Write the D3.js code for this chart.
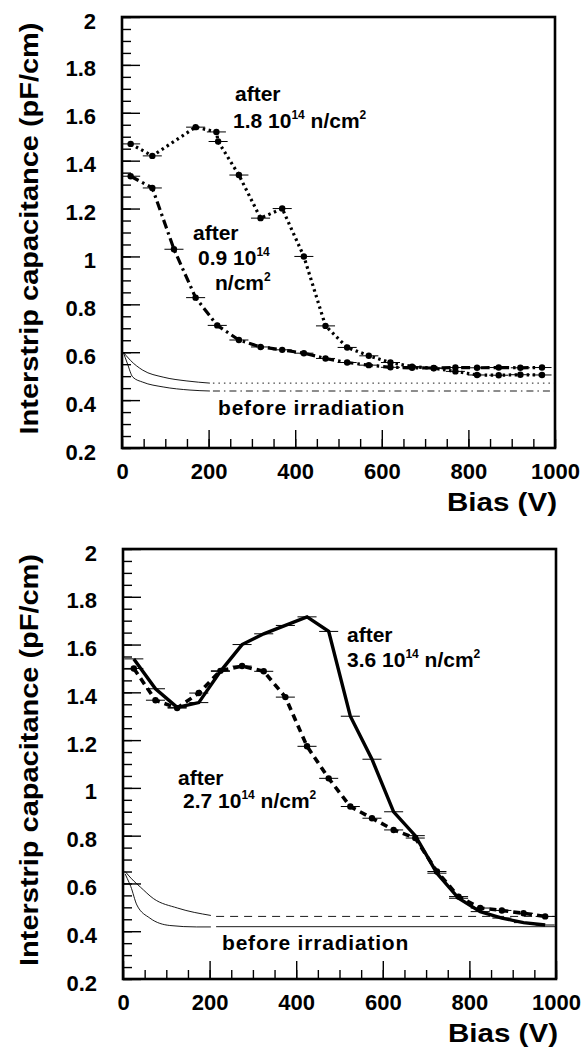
<!DOCTYPE html>
<html>
<head>
<meta charset="utf-8">
<script src="https://cdn.jsdelivr.net/npm/d3@7"></script>
<style>
    body { margin: 0; background: #fff; }
    svg text { font-family: "Liberation Sans", Arial, Helvetica, sans-serif; font-weight: bold; fill: #000; }
</style>
</head>
<body>
<svg id="chart" width="582" height="1052"></svg>
<script>
    'use strict';

    // tick values
    var biasTicks = [0, 200, 400, 600, 800, 1000];
    var biasMinor = d3.range(0, 1001, 50);
    var capTicks = [0.2, 0.4, 0.6, 0.8, 1, 1.2, 1.4, 1.6, 1.8, 2];
    var capMinor = d3.range(4, 41).map(function (i) { return i * 0.05; });

    // top panel: 1.8 10^14 n/cm2 (dotted)
    var bias18 = [20, 70, 170, 218, 222, 270, 320, 370, 420, 470, 520, 570, 620, 670, 720, 770, 820, 870, 920, 970];
    var cap18 = [1.47, 1.42, 1.54, 1.52, 1.48, 1.34, 1.16, 1.20, 1.00, 0.71, 0.62, 0.585, 0.557, 0.54, 0.533, 0.52, 0.505, 0.504, 0.506, 0.505];

    // top panel: 0.9 10^14 n/cm2 (dash-dot)
    var bias09 = [20, 70, 120, 170, 220, 270, 320, 370, 420, 470, 520, 570, 620, 670, 720, 770, 820, 870, 920, 970];
    var cap09 = [1.335, 1.286, 1.03, 0.828, 0.712, 0.651, 0.622, 0.61, 0.596, 0.574, 0.557, 0.546, 0.537, 0.535, 0.534, 0.536, 0.535, 0.536, 0.535, 0.536];

    // top panel: before irradiation
    var topBeforeBiasA = [3, 10, 20, 48, 95, 150, 203];
    var topBeforeCapA = [0.60, 0.585, 0.565, 0.525, 0.496, 0.48, 0.471];
    var topBeforeBiasB = [3, 12, 25, 48, 95, 157, 203];
    var topBeforeCapB = [0.60, 0.555, 0.496, 0.475, 0.455, 0.442, 0.438];
    var topTailBias = [210, 1000];
    var topTailCapA = [0.471, 0.471];
    var topTailCapB = [0.438, 0.438];

    // bottom panel: 3.6 10^14 n/cm2 (solid)
    var bias36 = [25, 75, 125, 175, 225, 275, 325, 375, 425, 475, 525, 575, 625, 675, 725, 775, 825, 875, 925, 975];
    var cap36 = [1.54, 1.415, 1.337, 1.357, 1.488, 1.60, 1.645, 1.68, 1.716, 1.655, 1.30, 1.12, 0.90, 0.80, 0.643, 0.538, 0.482, 0.455, 0.436, 0.426];

    // bottom panel: 2.7 10^14 n/cm2 (dashed)
    var bias27 = [25, 75, 125, 175, 225, 275, 325, 375, 425, 475, 525, 575, 625, 675, 725, 775, 825, 875, 925, 975];
    var cap27 = [1.50, 1.367, 1.334, 1.397, 1.49, 1.51, 1.488, 1.38, 1.174, 1.04, 0.922, 0.873, 0.824, 0.79, 0.65, 0.545, 0.497, 0.487, 0.475, 0.462];

    // bottom panel: before irradiation
    var botBeforeBiasA = [5, 12, 25, 40, 70, 126, 203];
    var botBeforeCapA = [0.65, 0.635, 0.61, 0.585, 0.537, 0.497, 0.466];
    var botBeforeBiasB = [5, 10, 18, 32, 62, 108, 170, 203];
    var botBeforeCapB = [0.64, 0.62, 0.587, 0.51, 0.455, 0.424, 0.418, 0.418];
    var botTailBias = [215, 1000];
    var botTailCapA = [0.462, 0.462];
    var botTailCapB = [0.419, 0.419];

    var svg = d3.select("#chart");

    function zip(xs, ys) {
        return xs.map(function (v, i) { return {bias: v, cap: ys[i]}; });
    }

    function drawPanel(box) {
        var x = d3.scaleLinear().domain([0, 1000]).range([box.left, box.right]);
        var y = d3.scaleLinear().domain([0.2, 2]).range([box.bottom, box.top]);
        var g = svg.append("g");

        // minor ticks
        g.append("g")
            .attr("transform", "translate(" + box.left + ",0)")
            .call(d3.axisLeft(y).tickValues(capMinor).tickSizeInner(-9).tickSizeOuter(0).tickFormat(""));
        g.append("g")
            .attr("transform", "translate(0," + box.bottom + ")")
            .call(d3.axisBottom(x).tickValues(biasMinor).tickSizeInner(-9).tickSizeOuter(0).tickFormat(""));

        // major ticks + labels
        var ya = g.append("g")
            .attr("class", "y axis")
            .attr("transform", "translate(" + box.left + ",0)")
            .call(d3.axisLeft(y).tickValues(capTicks).tickSizeInner(-18).tickSizeOuter(0).tickPadding(26).tickFormat(d3.format("~g")));
        ya.selectAll("text").attr("font-size", 22).attr("dy", "0.5em");

        var xa = g.append("g")
            .attr("class", "x axis")
            .attr("transform", "translate(0," + box.bottom + ")")
            .call(d3.axisBottom(x).tickValues(biasTicks).tickSizeInner(-18).tickSizeOuter(0).tickPadding(15).tickFormat(d3.format("d")));
        xa.selectAll("text").attr("font-size", 22);

        g.selectAll(".domain").remove();
        g.selectAll(".tick line").attr("stroke", "#000").attr("stroke-width", 1.4);

        // frame
        g.append("rect")
            .attr("x", box.left)
            .attr("y", box.top)
            .attr("width", box.right - box.left)
            .attr("height", box.bottom - box.top)
            .attr("fill", "none")
            .attr("stroke", "#000")
            .attr("stroke-width", 2.6);

        // axis titles
        g.append("text")
            .attr("transform", "translate(38," + ((box.top + box.bottom) / 2 - 4) + ") rotate(-90)")
            .attr("text-anchor", "middle")
            .attr("font-size", 25)
            .attr("textLength", 412)
            .attr("lengthAdjust", "spacingAndGlyphs")
            .text("Interstrip capacitance (pF/cm)");

        g.append("text")
            .attr("x", box.right + 2)
            .attr("y", box.bottom + 63)
            .attr("text-anchor", "end")
            .attr("font-size", 25)
            .attr("textLength", 110)
            .attr("lengthAdjust", "spacingAndGlyphs")
            .text("Bias (V)");

        return {g: g, x: x, y: y};
    }

    function addThin(p, xs, ys, dash, curved) {
        var line = d3.line()
            .x(function (d) { return p.x(d.bias); })
            .y(function (d) { return p.y(d.cap); });
        if (curved) line.curve(d3.curveMonotoneX);
        p.g.append("path")
            .datum(zip(xs, ys))
            .attr("d", line)
            .attr("fill", "none")
            .attr("stroke", "#000")
            .attr("stroke-width", 0.9)
            .attr("stroke-dasharray", dash);
    }

    function addSeries(p, xs, ys, dash, width, dots) {
        var data = zip(xs, ys);
        var line = d3.line()
            .x(function (d) { return p.x(d.bias); })
            .y(function (d) { return p.y(d.cap); });

        p.g.append("path")
            .datum(data)
            .attr("class", "line")
            .attr("d", line)
            .attr("fill", "none")
            .attr("stroke", "#000")
            .attr("stroke-width", width)
            .attr("stroke-linecap", "butt")
            .attr("stroke-dasharray", dash);

        // horizontal error bars
        p.g.selectAll(null)
            .data(data)
            .enter().append("line")
            .attr("x1", function (d) { return p.x(d.bias - 22); })
            .attr("x2", function (d) { return p.x(d.bias + 22); })
            .attr("y1", function (d) { return p.y(d.cap); })
            .attr("y2", function (d) { return p.y(d.cap); })
            .attr("stroke", "#000")
            .attr("stroke-width", 1);

        if (dots) {
            p.g.selectAll(null)
                .data(data)
                .enter().append("circle")
                .attr("cx", function (d) { return p.x(d.bias); })
                .attr("cy", function (d) { return p.y(d.cap); })
                .attr("r", 3.2)
                .attr("fill", "#000");
        }
    }

    function addLabel(g, x, y, parts) {
        var t = g.append("text").attr("x", x).attr("y", y).attr("font-size", 21);
        parts.forEach(function (s) {
            if (s.sup) {
                t.append("tspan").attr("font-size", 12).attr("dy", -9).text(s.sup);
            } else {
                t.append("tspan").attr("dy", s.down ? 9 : 0).text(s.txt);
            }
        });
        return t;
    }

    // ---------- top panel ----------
    var topPanel = drawPanel({left: 122, right: 555, top: 17, bottom: 448});

    addThin(topPanel, topBeforeBiasA, topBeforeCapA, null, true);
    addThin(topPanel, topBeforeBiasB, topBeforeCapB, null, true);
    addThin(topPanel, topTailBias, topTailCapA, "1.5,4", false);
    addThin(topPanel, topTailBias, topTailCapB, "7,4,1.5,4", false);

    addSeries(topPanel, bias18, cap18, "2.5,3.5", 3.2, true);
    addSeries(topPanel, bias09, cap09, "9,4,2.5,4", 3.2, true);

    addLabel(topPanel.g, 235, 101, [{txt: "after"}]);
    addLabel(topPanel.g, 233, 128, [{txt: "1.8 10"}, {sup: "14"}, {txt: " n/cm", down: true}, {sup: "2"}]);
    addLabel(topPanel.g, 193, 240, [{txt: "after"}]);
    addLabel(topPanel.g, 198, 265, [{txt: "0.9 10"}, {sup: "14"}]);
    addLabel(topPanel.g, 215, 290, [{txt: "n/cm"}, {sup: "2"}]);
    addLabel(topPanel.g, 218, 415, [{txt: "before irradiation"}]).attr("letter-spacing", 0.8);

    // ---------- bottom panel ----------
    var botPanel = drawPanel({left: 123, right: 556, top: 549, bottom: 979});

    addThin(botPanel, botBeforeBiasA, botBeforeCapA, null, true);
    addThin(botPanel, botBeforeBiasB, botBeforeCapB, null, true);
    addThin(botPanel, botTailBias, botTailCapA, "8,6", false);
    addThin(botPanel, botTailBias, botTailCapB, null, false);

    addSeries(botPanel, bias27, cap27, "7,5", 3.6, true);
    addSeries(botPanel, bias36, cap36, null, 3.4, false);

    addLabel(botPanel.g, 347, 642, [{txt: "after"}]);
    addLabel(botPanel.g, 347, 667, [{txt: "3.6 10"}, {sup: "14"}, {txt: " n/cm", down: true}, {sup: "2"}]);
    addLabel(botPanel.g, 178, 785, [{txt: "after"}]);
    addLabel(botPanel.g, 183, 808, [{txt: "2.7 10"}, {sup: "14"}, {txt: " n/cm", down: true}, {sup: "2"}]);
    addLabel(botPanel.g, 222, 950, [{txt: "before irradiation"}]).attr("letter-spacing", 0.8);
</script>
</body>
</html>
